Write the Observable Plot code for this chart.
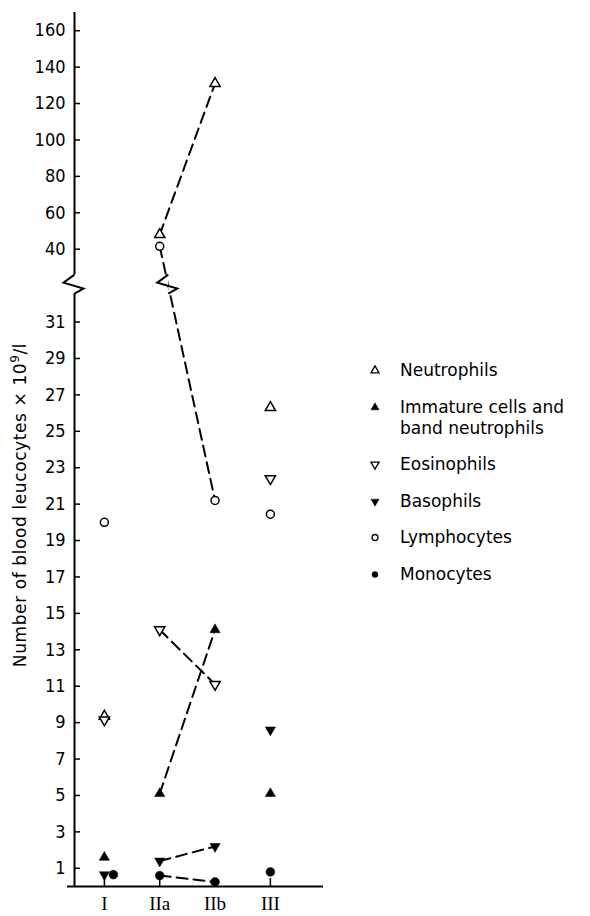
<!DOCTYPE html>
<html>
<head>
<meta charset="utf-8">
<script src="https://cdn.jsdelivr.net/npm/d3@7"></script>
<script src="https://cdn.jsdelivr.net/npm/@observablehq/plot@0.6"></script>
<style>
  body { margin: 0; background: #fff; }
  #wrap { position: relative; width: 590px; height: 916px; }
  #ylab { position: absolute; left: 19px; top: 505px; transform: translate(-50%, -50%) rotate(-90deg);
          white-space: nowrap; font-family: "DejaVu Sans", sans-serif; font-size: 17px; letter-spacing: 0.6px; color: #000; }
  #ylab sup { font-size: 12px; }
  #legend { position: absolute; left: 369px; top: 360px; font-family: "DejaVu Sans", sans-serif; font-size: 17px; line-height: 21px; color: #000; }
  .item { display: flex; align-items: flex-start; margin-bottom: 15.5px; }
  .item svg { flex: none; margin-right: 19px; }
</style>
</head>
<body>
<div id="wrap">
  <div id="chart"></div>
  <div id="ylab">Number of blood leucocytes × 10<sup>9</sup>/l</div>
  <div id="legend"></div>
</div>
<script>
// ---- data ----
const categories = ["I", "IIa", "IIb", "III"];
const neutrophils = [9.35, 48, 131, 26.3];
const immature    = [1.6, 5.1, 14.1, 5.1];
const eosinophils = [9.15, 14.1, 11.1, 22.4];
const basophils   = [0.65, 1.4, 2.2, 8.6];
const lymphocytes = [20.0, 41.6, 21.2, 20.45];
const monocytes   = [0.65, 0.6, 0.25, 0.8];
const lowerTicks = [1, 3, 5, 7, 9, 11, 13, 15, 17, 19, 21, 23, 25, 27, 29, 31];
const upperTicks = [40, 60, 80, 100, 120, 140, 160];
const legendLabels = ["Neutrophils", "Immature cells and<br>band neutrophils", "Eosinophils", "Basophils", "Lymphocytes", "Monocytes"];

// ---- broken axis mapping ----
const LOW_TOP = 33, UP_BOTTOM = 20, UP_SCALE = 10, UP_TOP = 170;
const brk = v => v <= LOW_TOP ? v : LOW_TOP + (v - UP_BOTTOM) / UP_SCALE;
const inv = t => t <= LOW_TOP ? t : Math.round((t - LOW_TOP) * UP_SCALE + UP_BOTTOM);

// ---- symbols ----
const s3 = Math.sqrt(3);
const triDown = { draw(ctx, size) { const y = -Math.sqrt(size / (s3 * 3)); ctx.moveTo(0, -y * 2); ctx.lineTo(-s3 * y, y); ctx.lineTo(s3 * y, y); ctx.closePath(); } };
const zigzag = { draw(ctx) { ctx.moveTo(0, -11); ctx.lineTo(-11, -3); ctx.lineTo(9, 3); ctx.lineTo(0, 8); } };

const series = [
  { name: "Neutrophils", values: neutrophils, symbol: "triangle", open: true },
  { name: "Immature", values: immature, symbol: "triangle", open: false },
  { name: "Eosinophils", values: eosinophils, symbol: triDown, open: true },
  { name: "Basophils", values: basophils, symbol: triDown, open: false },
  { name: "Lymphocytes", values: lymphocytes, symbol: "circle", open: true },
  { name: "Monocytes", values: monocytes, symbol: "circle", open: false }
];
const rows = series.flatMap(s => s.values.map((v, i) => ({ series: s.name, i, v, y: brk(v) })));

// ---- layout ----
const W = 590, H = 916, mL = 74, mR = 267, mT = 12, mB = 30;
const frameW = W - mL - mR, frameH = H - mT - mB;
const xDom = [-0.54, 3.96];
const yDom = [0, brk(UP_TOP)];
const pxPerUnit = frameH / (yDom[1] - yDom[0]);
const narrow = '"Liberation Sans Narrow", "DejaVu Sans Condensed", "Liberation Sans", sans-serif';

// lymphocyte line crossing the break
const ly1 = brk(lymphocytes[1]), ly2 = brk(lymphocytes[2]);
const crossX = 1 + (ly1 - LOW_TOP) / (ly1 - ly2);

const dotMarks = series.flatMap(s => {
  const data = rows.filter(d => d.series === s.name);
  const opts = {
    x: "i", y: "y", symbol: s.symbol,
    r: s.symbol === "circle" ? (s.open ? 4 : 4.4) : 3.8,
    fill: s.open ? "white" : "black",
    stroke: "black", strokeWidth: s.open ? 1.5 : 0.5
  };
  if (s.name === "Monocytes") {
    return [Plot.dot(data.filter(d => d.i === 0), { ...opts, dx: 9 }), Plot.dot(data.filter(d => d.i !== 0), opts)];
  }
  return [Plot.dot(data, opts)];
});

const plot = Plot.plot({
  width: W, height: H,
  marginLeft: mL, marginRight: mR, marginTop: mT, marginBottom: mB,
  style: { fontFamily: narrow, color: "#000", background: "white" },
  x: { type: "linear", domain: xDom },
  y: { type: "linear", domain: yDom },
  marks: [
    // x baseline
    Plot.ruleY([0], { insetLeft: -7, stroke: "black", strokeWidth: 2 }),
    // y axis line with break
    Plot.ruleX([xDom[0]], { y1: 0, y2: LOW_TOP - 8 / pxPerUnit, stroke: "black", strokeWidth: 2 }),
    Plot.ruleX([xDom[0]], { y1: LOW_TOP + 11 / pxPerUnit, y2: yDom[1], stroke: "black", strokeWidth: 2 }),
    Plot.dot([{ x: xDom[0], y: LOW_TOP }], { x: "x", y: "y", symbol: zigzag, r: 5, fill: "none", stroke: "black", strokeWidth: 2 }),
    // y ticks (inward)
    Plot.tickY([...lowerTicks, ...upperTicks], { y: brk, insetRight: frameW - 6, stroke: "black", strokeWidth: 1.5 }),
    Plot.axisY({ ticks: [...lowerTicks, ...upperTicks].map(brk), tickFormat: inv, tickSize: 0, tickPadding: 9,
                 label: null, fontSize: 18, fontFamily: narrow }),
    // x ticks (inward) and labels
    Plot.tickX(d3.range(categories.length), { x: d => d, insetTop: frameH - 8, stroke: "black", strokeWidth: 1.5 }),
    Plot.axisX({ ticks: d3.range(categories.length), tickFormat: i => categories[i], tickSize: 0, tickPadding: 10,
                 label: null, fontSize: 19, fontFamily: '"Liberation Serif", "DejaVu Serif", serif' }),
    // dashed connections IIa -> IIb
    Plot.line(rows.filter(d => d.i === 1 || d.i === 2), { x: "i", y: "y", z: "series", stroke: "black", strokeWidth: 2, strokeDasharray: "11,6" }),
    // break mark on the lymphocyte line
    Plot.dot([{ x: crossX, y: LOW_TOP }], { x: "x", y: "y", symbol: zigzag, r: 5, fill: "white", stroke: "black", strokeWidth: 2 }),
    ...dotMarks
  ]
});
document.getElementById("chart").append(plot);

// ---- legend ----
function legendSymbol(s) {
  const size = 3 * 3 * Math.PI;
  const sym = typeof s.symbol === "string" ? (s.symbol === "triangle" ? d3.symbolTriangle : d3.symbolCircle) : s.symbol;
  const p = d3.path(); sym.draw(p, size);
  return `<svg width="12" height="21"><path transform="translate(6,10.5)" d="${p.toString()}" fill="${s.open ? "white" : "black"}" stroke="black" stroke-width="${s.open ? 1.3 : 0.5}"/></svg>`;
}
document.getElementById("legend").innerHTML = series.map((s, k) =>
  `<div class="item">${legendSymbol(s)}<div>${legendLabels[k]}</div></div>`).join("");
</script>
</body>
</html>
